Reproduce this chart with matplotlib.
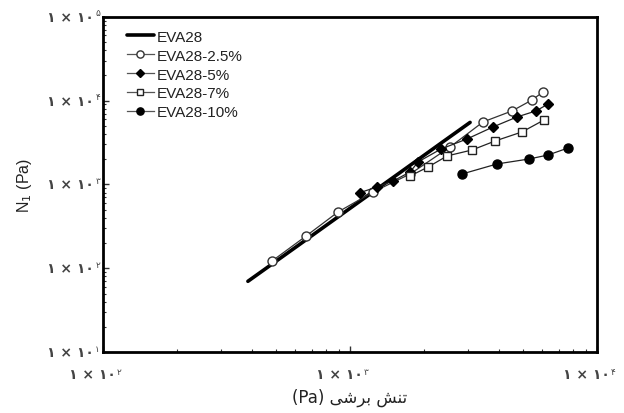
import numpy as np
import matplotlib
matplotlib.use('Agg')
import matplotlib.pyplot as plt
from matplotlib.ticker import LogLocator, FixedLocator, NullFormatter

plt.rcParams['font.family'] = ['Liberation Sans', 'DejaVu Sans']

# data
eva28_x = [386, 600, 1000, 1600, 2400, 3060]
eva28_y = [70, 177, 520, 1400, 3300, 5500]

eva25_x = [483, 664, 894, 1239, 1750, 2541, 3453, 4528, 5458, 6040]
eva25_y = [122, 243, 470, 813, 1334, 2805, 5572, 7546, 10210, 12710]

eva5_x = [1097, 1286, 1494, 1750, 1884, 2336, 2976, 3793, 4744, 5660, 6339]
eva5_y = [800, 933, 1101, 1410, 1857, 2654, 3494, 4860, 6397, 7546, 9140]

eva7_x = [1750, 2070, 2472, 3119, 3866, 4966, 6100]
eva7_y = [1262, 1618, 2190, 2581, 3305, 4234, 5890]

eva10_x = [2840, 3936, 5308, 6339, 7638]
eva10_y = [1334, 1758, 2014, 2250, 2729]

x_ticks = [1e2, 1e3, 1e4]
x_exp = ['۲', '۳', '۴']
y_ticks = [1e1, 1e2, 1e3, 1e4, 1e5]
y_exp = ['۱', '۲', '۳', '۴', '۵']
base_lbl = '۱ × ۱۰'

# "تنش برشی (Pa)" in presentation forms, visual order
x_title = '(Pa) \uFBFD\uFEB7\uFEAE\uFE91 \uFEB6\uFEE8\uFE97'

fig = plt.figure(figsize=(6.24, 4.14), dpi=100)
ax = fig.add_axes([0.165, 0.147, 0.792, 0.81])

ax.plot(eva28_x, eva28_y, color='black', lw=2.6, label='EVA28', solid_capstyle='round')
ax.plot(eva25_x, eva25_y, color='#333333', lw=0.9, marker='o', ms=6.5, mfc='white',
        mec='#333333', mew=1.0, label='EVA28-2.5%')
ax.plot(eva5_x, eva5_y, color='#222222', lw=0.9, marker='D', ms=5.5, mfc='black',
        mec='black', label='EVA28-5%')
ax.plot(eva7_x, eva7_y, color='#222222', lw=0.9, marker='s', ms=6, mfc='white',
        mec='#222222', mew=1.0, label='EVA28-7%')
ax.plot(eva10_x, eva10_y, color='#222222', lw=0.9, marker='o', ms=6.5, mfc='black',
        mec='black', label='EVA28-10%')

ax.set_xscale('log')
ax.set_yscale('log')
ax.set_xlim(1e2, 1e4)
ax.set_ylim(1e1, 1e5)

ax.xaxis.set_major_locator(FixedLocator(x_ticks))
ax.yaxis.set_major_locator(FixedLocator(y_ticks))
ax.xaxis.set_major_formatter(NullFormatter())
ax.yaxis.set_major_formatter(NullFormatter())
ax.xaxis.set_minor_locator(LogLocator(base=10, subs=np.arange(2, 10)))
ax.yaxis.set_minor_locator(LogLocator(base=10, subs=np.arange(2, 10)))
ax.xaxis.set_minor_formatter(NullFormatter())
ax.yaxis.set_minor_formatter(NullFormatter())

ax.tick_params(which='both', direction='in', top=False, right=False, colors='#333333')
ax.tick_params(which='major', length=4, width=1)
ax.tick_params(which='minor', length=2.5, width=0.8)
for s in ax.spines.values():
    s.set_linewidth(2)

# tick labels: "1x10" with raised exponent, Persian digits
lbl_kw = dict(family=['DejaVu Sans'], color='#444444', annotation_clip=False)
for v, e in zip(y_ticks, y_exp):
    ax.annotate(e, xy=(0, v), xycoords=('axes fraction', 'data'), xytext=(-2, 6),
                textcoords='offset points', ha='right', va='top', fontsize=6.5, **lbl_kw)
    ax.annotate(base_lbl, xy=(0, v), xycoords=('axes fraction', 'data'), xytext=(-6.5, 0),
                textcoords='offset points', ha='right', va='center', fontsize=10,
                fontweight='bold', **lbl_kw)
for v, e in zip(x_ticks, x_exp):
    ax.annotate(base_lbl, xy=(v, 0), xycoords=('data', 'axes fraction'), xytext=(9.5, -16),
                textcoords='offset points', ha='right', va='center', fontsize=10,
                fontweight='bold', **lbl_kw)
    ax.annotate(e, xy=(v, 0), xycoords=('data', 'axes fraction'), xytext=(10, -10.5),
                textcoords='offset points', ha='left', va='top', fontsize=6.5, **lbl_kw)

ax.set_ylabel(r'N$_1$ (Pa)', fontsize=11.5, labelpad=46, color='#222222')
ax.set_xlabel(x_title, fontsize=12, labelpad=22, family=['DejaVu Sans'], color='#222222')

leg = ax.legend(loc='upper left', bbox_to_anchor=(0.0225, 1.0), frameon=False,
                fontsize=11, handlelength=1.75, handletextpad=0.2, labelspacing=0.32,
                borderaxespad=0.45, markerscale=0.8)
for h in leg.legend_handles[1:]:
    h.set_color('#555555')
for t in leg.get_texts():
    t.set_color('#222222')

fig.savefig('out.png', dpi=100)
